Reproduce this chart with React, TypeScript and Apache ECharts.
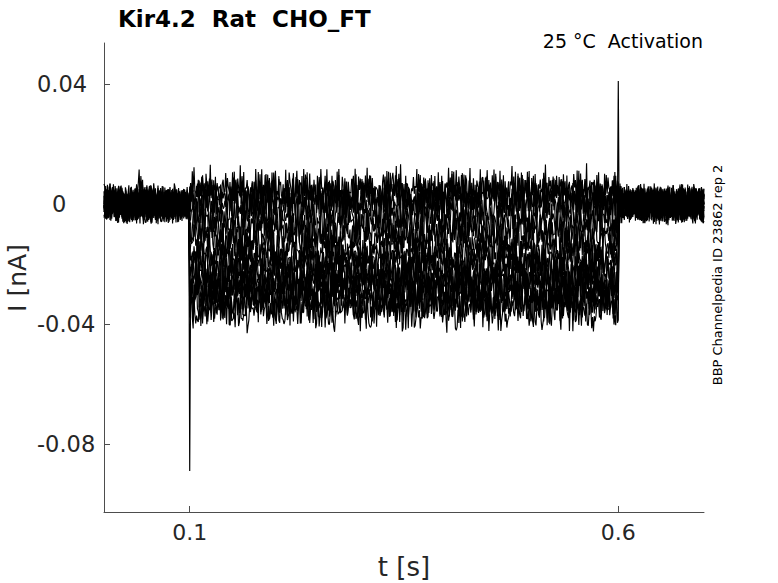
import React, { useEffect, useRef } from "react";
import * as echarts from "echarts";

// ---- data ----
const titleText = "Kir4.2  Rat  CHO_FT";
const condText = "25 °C  Activation";
const idText = "BBP Channelpedia ID 23862 rep 2";
const xTicks = [0.1, 0.6];
const yTicks = [0.04, 0, -0.04, -0.08];

// Step levels (nA) of each sweep during the 0.1–0.6 s pulse
const stepLevels = [0.005, 0.003, 0.0005, -0.003, -0.007, -0.01, -0.013, -0.016, -0.019, -0.021, -0.023, -0.025, -0.027, -0.029, -0.031, -0.033, -0.035];
// per-sweep offsets / strides into the two recorded noise snippets
const noiseOffsets = [0, 37, 11, 73, 52, 19, 88, 5, 61, 29, 44, 80, 14, 67, 33, 96, 58];
const noiseStrides = [1, 3, 7, 12, 17, 23, 29, 31, 38, 41, 47, 53, 59, 64, 71, 79, 86];
const noise2Offsets = [3, 17, 29, 8, 22, 35, 1, 14, 26, 11, 31, 5, 19, 33, 9, 24, 15];
const noise2Strides = [5, 2, 11, 7, 13, 3, 17, 6, 19, 4, 23, 9, 29, 8, 31, 10, 14];
// hand-read noise snippets (in 0.001 nA)
const noise = [1.2, -2.5, 3.8, -0.6, 4.9, -3.1, 0.4, -5.2, 2.7, -1.4, 5.6, -2.2, 0.9, -4.4, 3.1, -0.3, 1.8, -5.8, 2.2, 4.1, -1.7, -3.6, 0.2, 5.1, -2.9, 1.5, -4.8, 3.4, -0.8, 2.6, -3.9, 4.5, -1.1, 0.7, -5.5, 3.9, -2.4, 1.1, 4.8, -3.3, -0.5, 2.9, -4.1, 5.3, -1.9, 0.3, -3.0, 3.6, -5.0, 1.9, -0.9, 4.3, -2.7, 2.1, -4.6, 0.6, 3.2, -1.5, 5.7, -3.7, 1.3, -2.0, 4.0, -5.4, 2.4, -0.2, 3.5, -3.4, 0.8, -4.9, 2.8, -1.2, 5.0, -2.6, 1.6, -3.8, 4.6, -0.7, -5.1, 3.0, -1.8, 2.3, -4.3, 5.4, -2.1, 0.5, -3.5, 3.7, -0.4, 1.7, -4.7, 4.2, -2.8, 0.1, -5.6, 3.3, -1.6, 2.5, -3.2, 4.4, -1.0];
const noise2 = [2.1, -1.4, 0.6, -2.8, 1.7, -0.3, 2.9, -2.2, 0.9, -1.1, 2.4, -2.6, 0.2, 1.3, -1.9, 2.7, -0.7, -2.4, 1.0, 0.4, -1.6, 2.2, -3.0, 1.5, -0.5, 2.6, -1.2, 0.8, -2.1, 1.9, -0.9, 3.0, -1.7, 0.1, -2.5, 1.2, -0.2];
// small baseline bump near t = 0.04 s (in 0.001 nA), starting at sample 38
const bump = [2.0, 4.0, 6.5, 8.0, 7.0, 5.0, 7.5, 5.5, 3.0, 1.5];
const bumpStart = 38;
const onsetSpike = -0.089; // t = 0.1 s
const offsetSpike = 0.041; // t = 0.6 s
const dt = 0.001;
const nSamples = 700;
const pulseStart = 100;
const pulseEnd = 600;

function buildSweep(k: number): [number, number][] {
  const pts: [number, number][] = [];
  for (let j = 0; j <= nSamples; j++) {
    const t = +(j * dt).toFixed(4);
    const a = noise[(j * noiseStrides[k] + noiseOffsets[k]) % noise.length];
    const b = noise2[(j * noise2Strides[k] + noise2Offsets[k]) % noise2.length];
    const nz = (a + b) * 0.001;
    let v: number;
    if (j < pulseStart || j > pulseEnd) {
      v = nz * 0.8;
      if (k === 0 && j >= bumpStart && j < bumpStart + bump.length) v += bump[j - bumpStart] * 0.001;
    } else {
      v = stepLevels[k] + nz;
    }
    if (k === stepLevels.length - 1 && j === pulseStart) v = onsetSpike;
    if (k === 0 && j === pulseEnd) v = offsetSpike;
    pts.push([t, v]);
  }
  return pts;
}

export default function App() {
  const ref = useRef<HTMLDivElement>(null);
  useEffect(() => {
    document.body.style.margin = "0";
    if (!ref.current) return;
    const chart = echarts.init(ref.current, null, { renderer: "svg" });
    const font = "DejaVu Sans";
    const axisColor = "#4d4d4d";
    const series = stepLevels.map((_, k) => ({
      type: "line",
      data: buildSweep(k),
      showSymbol: false,
      symbol: "none",
      silent: true,
      lineStyle: { color: "#000", width: 1.15 },
    }));
    chart.setOption({
      animation: false,
      grid: { left: 104, right: 74, top: 43, bottom: 71, containLabel: false, outerBoundsMode: "none" },
      xAxis: {
        type: "value",
        min: 0,
        max: 0.7,
        splitLine: { show: false },
        axisLine: { show: true, onZero: false, lineStyle: { color: axisColor, width: 1 } },
        axisTick: { show: true, inside: true, length: 6, customValues: xTicks, lineStyle: { color: axisColor } },
        axisLabel: {
          customValues: xTicks,
          color: "#262626",
          fontSize: 22,
          fontFamily: font,
          margin: 9,
          formatter: (v: number) => String(Math.round(v * 10) / 10),
        },
      },
      yAxis: {
        type: "value",
        min: -0.1027,
        max: 0.0537,
        splitLine: { show: false },
        axisLine: { show: true, onZero: false, lineStyle: { color: axisColor, width: 1 } },
        axisTick: { show: true, inside: true, length: 6, customValues: yTicks, lineStyle: { color: axisColor } },
        axisLabel: {
          customValues: yTicks,
          color: "#262626",
          fontSize: 22.5,
          fontFamily: font,
          align: "left",
          margin: 67,
          formatter: (v: number) => {
            const r = Math.round(v * 100) / 100;
            return r === 0 ? "{z|0}" : String(r);
          },
          rich: {
            z: { fontSize: 22.5, fontFamily: font, color: "#262626", padding: [0, 0, 0, 15] },
          },
        },
      },
      series,
      graphic: [
        {
          type: "text",
          x: 118,
          y: 19,
          style: { text: titleText, font: `bold 23px "${font}"`, fill: "#000", verticalAlign: "middle" },
        },
        {
          type: "text",
          x: 703,
          y: 41,
          style: { text: condText, font: `19px "${font}"`, fill: "#000", align: "right", verticalAlign: "middle" },
        },
        {
          type: "text",
          x: 717,
          y: 275,
          rotation: Math.PI / 2,
          style: { text: idText, font: `13px "${font}"`, fill: "#000", align: "center", verticalAlign: "middle" },
        },
        {
          type: "text",
          x: 404,
          y: 567,
          style: { text: "t [s]", font: `26px "${font}"`, fill: "#262626", align: "center", verticalAlign: "middle" },
        },
        {
          type: "text",
          x: 17,
          y: 278,
          rotation: Math.PI / 2,
          style: { text: "I [nA]", font: `25px "${font}"`, fill: "#262626", align: "center", verticalAlign: "middle" },
        },
      ],
    });
    return () => chart.dispose();
  }, []);
  return <div ref={ref} style={{ width: 778, height: 583 }} />;
}
